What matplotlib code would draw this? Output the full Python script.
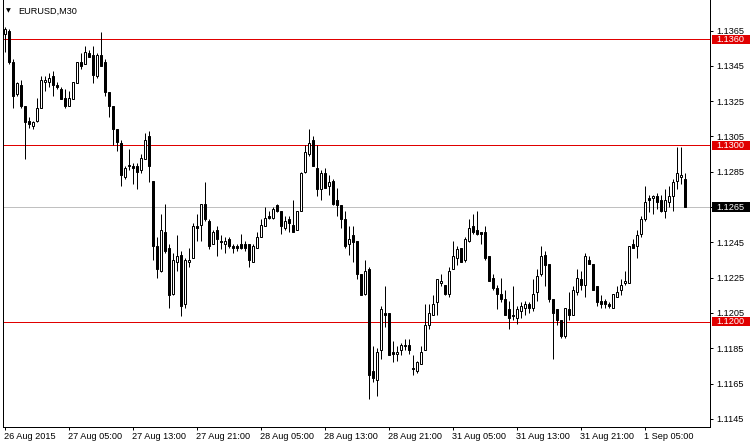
import matplotlib
matplotlib.use('Agg')
import matplotlib.pyplot as plt
import matplotlib.transforms as mtransforms
from matplotlib.patches import Rectangle

# EURUSD M30, velas (open, high, low, close)
opens = [1.1363, 1.1365, 1.1347, 1.1329, 1.1334, 1.1322, 1.1314, 1.1311, 1.1314, 1.1321,
         1.1336, 1.1336, 1.1339, 1.1334, 1.1332, 1.1327, 1.1322, 1.1326, 1.1335, 1.1347,
         1.1346, 1.1352, 1.1351, 1.1339, 1.1351, 1.1347, 1.1330, 1.1322, 1.1309, 1.1301,
         1.1282, 1.1288, 1.1288, 1.1288, 1.1286, 1.1292, 1.1305, 1.1280, 1.1243, 1.1229,
         1.1251, 1.1242, 1.1216, 1.1234, 1.1238, 1.1210, 1.1234, 1.1236, 1.1254, 1.1255,
         1.1267, 1.1257, 1.1244, 1.1252, 1.1246, 1.1244, 1.1247, 1.1243, 1.1243, 1.1244,
         1.1244, 1.1244, 1.1234, 1.1242, 1.1248, 1.1254, 1.1260, 1.1259, 1.1266, 1.1263,
         1.1253, 1.1258, 1.1255, 1.1252, 1.1263, 1.1285, 1.1295, 1.1303, 1.1287, 1.1275,
         1.1284, 1.1277, 1.1280, 1.1269, 1.1266, 1.1258, 1.1244, 1.1249, 1.1246, 1.1227,
         1.1216, 1.1230, 1.1172, 1.1167, 1.1184, 1.1205, 1.1205, 1.1183, 1.1182, 1.1184,
         1.1187, 1.1187, 1.1174, 1.1172, 1.1176, 1.1184, 1.1198, 1.1204, 1.1211, 1.1222,
         1.1221, 1.1216, 1.1230, 1.1236, 1.1242, 1.1235, 1.1246, 1.1254, 1.1252, 1.1251,
         1.1251, 1.1237, 1.1225, 1.1219, 1.1216, 1.1213, 1.1207, 1.1204, 1.1202, 1.1206,
         1.1208, 1.1210, 1.1208, 1.1217, 1.1227, 1.1238, 1.1233, 1.1213, 1.1207, 1.1201,
         1.1192, 1.1207, 1.1204, 1.1217, 1.1224, 1.1221, 1.1235, 1.1233, 1.1220, 1.1212,
         1.1212, 1.1210, 1.1208, 1.1214, 1.1218, 1.1222, 1.1222, 1.1244, 1.1243, 1.1250,
         1.1258, 1.1270, 1.1270, 1.1271, 1.1269, 1.1263, 1.1268, 1.1271, 1.1280, 1.1282,
         1.1281]
highs = [1.1367, 1.1366, 1.1349, 1.1336, 1.1337, 1.1322, 1.1316, 1.1314, 1.1327, 1.1339,
         1.1339, 1.1341, 1.1342, 1.1336, 1.1333, 1.1332, 1.1331, 1.1336, 1.1347, 1.1352,
         1.1356, 1.1354, 1.1356, 1.1352, 1.1364, 1.1349, 1.1330, 1.1322, 1.1309, 1.1303,
         1.1288, 1.1298, 1.1290, 1.1290, 1.1295, 1.1307, 1.1308, 1.1280, 1.1248, 1.1261,
         1.1267, 1.1244, 1.1239, 1.1249, 1.1240, 1.1236, 1.1242, 1.1256, 1.1261, 1.1267,
         1.1279, 1.1258, 1.1252, 1.1254, 1.1249, 1.1248, 1.1248, 1.1244, 1.1244, 1.1250,
         1.1246, 1.1244, 1.1244, 1.1251, 1.1258, 1.1265, 1.1263, 1.1265, 1.1267, 1.1263,
         1.1260, 1.1260, 1.1269, 1.1263, 1.1285, 1.1300, 1.1309, 1.1305, 1.1300, 1.1286,
         1.1287, 1.1283, 1.1281, 1.1276, 1.1266, 1.1263, 1.1254, 1.1254, 1.1246, 1.1227,
         1.1235, 1.1231, 1.1186, 1.1185, 1.1209, 1.1220, 1.1205, 1.1189, 1.1186, 1.1188,
         1.1190, 1.1190, 1.1181, 1.1178, 1.1186, 1.1210, 1.1210, 1.1215, 1.1224, 1.1227,
         1.1221, 1.1231, 1.1246, 1.1243, 1.1242, 1.1248, 1.1258, 1.1261, 1.1263, 1.1251,
         1.1254, 1.1237, 1.1227, 1.1221, 1.1225, 1.1218, 1.1212, 1.1220, 1.1209, 1.1211,
         1.1212, 1.1211, 1.1224, 1.1230, 1.1243, 1.1240, 1.1233, 1.1213, 1.1207, 1.1201,
         1.1208, 1.1217, 1.1220, 1.1230, 1.1229, 1.1239, 1.1237, 1.1233, 1.1220, 1.1215,
         1.1213, 1.1211, 1.1216, 1.1220, 1.1224, 1.1229, 1.1243, 1.1247, 1.1252, 1.1260,
         1.1277, 1.1272, 1.1272, 1.1273, 1.1272, 1.1275, 1.1277, 1.1281, 1.1299, 1.1299,
         1.1284]
lows = [1.1353, 1.1346, 1.1321, 1.1328, 1.1321, 1.1292, 1.1310, 1.1309, 1.1313, 1.1321,
        1.1331, 1.1333, 1.1328, 1.1332, 1.1326, 1.1321, 1.1322, 1.1326, 1.1335, 1.1343,
        1.1346, 1.1350, 1.1335, 1.1338, 1.1345, 1.1328, 1.1316, 1.1300, 1.1297, 1.1277,
        1.1281, 1.1286, 1.1278, 1.1275, 1.1284, 1.1292, 1.1279, 1.1235, 1.1225, 1.1228,
        1.1239, 1.1208, 1.1215, 1.1229, 1.1203, 1.1208, 1.1231, 1.1236, 1.1246, 1.1246,
        1.1257, 1.1241, 1.1244, 1.1237, 1.1241, 1.1239, 1.1242, 1.1239, 1.1240, 1.1241,
        1.1240, 1.1231, 1.1234, 1.1242, 1.1248, 1.1254, 1.1258, 1.1258, 1.1262, 1.1250,
        1.1252, 1.1251, 1.1251, 1.1252, 1.1263, 1.1284, 1.1294, 1.1288, 1.1271, 1.1269,
        1.1276, 1.1272, 1.1266, 1.1260, 1.1253, 1.1242, 1.1238, 1.1234, 1.1224, 1.1215,
        1.1215, 1.1156, 1.1166, 1.1158, 1.1179, 1.1197, 1.1181, 1.1177, 1.1178, 1.1181,
        1.1184, 1.1182, 1.1170, 1.1171, 1.1176, 1.1184, 1.1196, 1.1204, 1.1204, 1.1220,
        1.1215, 1.1214, 1.1230, 1.1232, 1.1234, 1.1234, 1.1245, 1.1250, 1.1249, 1.1244,
        1.1235, 1.1223, 1.1218, 1.1207, 1.1211, 1.1204, 1.1196, 1.1201, 1.1199, 1.1202,
        1.1204, 1.1205, 1.1206, 1.1212, 1.1226, 1.1220, 1.1211, 1.1179, 1.1198, 1.1191,
        1.1191, 1.1201, 1.1204, 1.1215, 1.1218, 1.1214, 1.1233, 1.1218, 1.1209, 1.1208,
        1.1208, 1.1208, 1.1208, 1.1214, 1.1215, 1.1221, 1.1222, 1.1242, 1.1236, 1.1248,
        1.1257, 1.1262, 1.1261, 1.1264, 1.1262, 1.1259, 1.1265, 1.1263, 1.1275, 1.1278,
        1.1265]
closes = [1.1366, 1.1347, 1.1328, 1.1335, 1.1322, 1.1313, 1.1312, 1.1313, 1.1321, 1.1337,
          1.1337, 1.1338, 1.1334, 1.1333, 1.1326, 1.1322, 1.1327, 1.1336, 1.1347, 1.1345,
          1.1353, 1.1350, 1.1340, 1.1351, 1.1345, 1.1330, 1.1322, 1.1309, 1.1302, 1.1283,
          1.1287, 1.1289, 1.1287, 1.1285, 1.1293, 1.1303, 1.1288, 1.1243, 1.1230, 1.1252,
          1.1240, 1.1215, 1.1235, 1.1237, 1.1209, 1.1235, 1.1235, 1.1254, 1.1253, 1.1267,
          1.1258, 1.1243, 1.1251, 1.1247, 1.1245, 1.1246, 1.1243, 1.1242, 1.1242, 1.1242,
          1.1242, 1.1235, 1.1243, 1.1248, 1.1255, 1.1259, 1.1259, 1.1264, 1.1263, 1.1254,
          1.1257, 1.1256, 1.1251, 1.1263, 1.1284, 1.1296, 1.1301, 1.1288, 1.1275, 1.1284,
          1.1276, 1.1279, 1.1267, 1.1266, 1.1258, 1.1243, 1.1247, 1.1245, 1.1227, 1.1215,
          1.1229, 1.1170, 1.1168, 1.1183, 1.1207, 1.1204, 1.1181, 1.1182, 1.1183, 1.1187,
          1.1186, 1.1184, 1.1173, 1.1177, 1.1183, 1.1198, 1.1205, 1.1210, 1.1224, 1.1223,
          1.1216, 1.1229, 1.1237, 1.1241, 1.1234, 1.1247, 1.1253, 1.1251, 1.1250, 1.1250,
          1.1236, 1.1223, 1.1219, 1.1216, 1.1213, 1.1204, 1.1202, 1.1203, 1.1207, 1.1209,
          1.1210, 1.1208, 1.1216, 1.1226, 1.1237, 1.1232, 1.1213, 1.1205, 1.1201, 1.1192,
          1.1208, 1.1204, 1.1218, 1.1225, 1.1221, 1.1237, 1.1233, 1.1218, 1.1211, 1.1210,
          1.1210, 1.1209, 1.1216, 1.1217, 1.1221, 1.1223, 1.1243, 1.1242, 1.1249, 1.1258,
          1.1268, 1.1269, 1.1271, 1.1268, 1.1263, 1.1269, 1.1271, 1.1279, 1.1284, 1.1283,
          1.1265]

tick_bars = [0, 16, 32, 48, 64, 80, 96, 112, 128, 144, 160]
tick_labels = ['26 Aug 2015', '27 Aug 05:00', '27 Aug 13:00', '27 Aug 21:00', '28 Aug 05:00',
               '28 Aug 13:00', '28 Aug 21:00', '31 Aug 05:00', '31 Aug 13:00', '31 Aug 21:00',
               '1 Sep 05:00']
price_ticks = [1.1145, 1.1165, 1.1185, 1.1205, 1.1225, 1.1245, 1.1265, 1.1285, 1.1305,
               1.1325, 1.1345, 1.1365]
niveles = [1.1360, 1.1300, 1.1200]   # lineas horizontales rojas
bid = 1.1265                        # precio actual

plt.rcParams['font.family'] = ['Liberation Sans', 'DejaVu Sans']
fs = 6.6
px = 0.72  # un pixel en puntos

fig = plt.figure(figsize=(7.5, 4.45), dpi=100)
# 4 pixeles por vela, centro de la vela en la mitad de un pixel
ax = fig.add_axes([3 / 750, 17.7 / 445, 707 / 750, 427.3 / 445])

x = list(range(len(opens)))
ax.vlines(x, lows, highs, color='black', lw=px, zorder=3)
bottoms = [min(o, c) for o, c in zip(opens, closes)]
alturas = [abs(c - o) for o, c in zip(opens, closes)]
colores = ['white' if c > o else 'black' for o, c in zip(opens, closes)]
ax.bar(x, alturas, width=0.5, bottom=bottoms, color=colores, edgecolor='black',
       linewidth=px, zorder=4)

# lineas horizontales nitidas de 1 pixel
for v in niveles:
    ax.axhline(v, color='#e00000', lw=px, antialiased=False, zorder=2)
ax.axhline(bid, color='#c0c0c0', lw=px, antialiased=False, zorder=1)

ax.set_xlim(-0.375, 176.375)
ax.set_ylim(1.11402, 1.13823)

ax.set_xticks(tick_bars)
ax.set_xticklabels(tick_labels)
for t in ax.get_xticklabels():
    t.set_ha('left')
ax.set_yticks(price_ticks)
ax.set_yticklabels(['%.4f' % p for p in price_ticks])
ax.yaxis.tick_right()
ax.tick_params(axis='x', length=2.2, width=px, pad=1.5, labelsize=fs)
ax.tick_params(axis='y', length=2.2, width=px, pad=2.2, labelsize=fs)
ax.spines['top'].set_visible(False)
for s in ['left', 'bottom', 'right']:
    ax.spines[s].set_linewidth(px)

# etiquetas de precio en el eje derecho
trans = mtransforms.blended_transform_factory(fig.transFigure, ax.transData)
h = 0.000527
for v, fondo in [(1.1360, '#e00000'), (1.1300, '#e00000'), (1.1200, '#e00000'), (bid, 'black')]:
    ax.add_patch(Rectangle((711.7 / 750, v - h / 2), 1 - 711.7 / 750, h, transform=trans,
                           facecolor=fondo, edgecolor='none', clip_on=False, zorder=5))
    ax.text(716 / 750, v, '%.4f' % v, transform=trans, color='white', fontsize=fs,
            va='center', ha='left', clip_on=False, zorder=6)

fig.text(6 / 750, 1 - 11 / 445, '▼', fontsize=4.5, va='center', ha='left',
         family=['DejaVu Sans'])
fig.text(18 / 750, 1 - 11 / 445, 'EURUSD,M30', fontsize=fs, va='center', ha='left')

fig.savefig('out.png', dpi=100)
